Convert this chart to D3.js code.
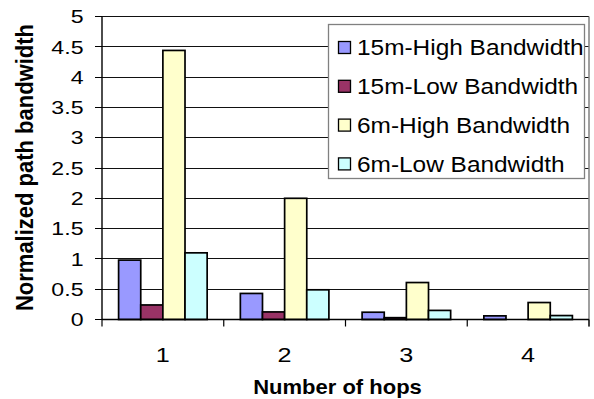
<!DOCTYPE html>
<html>
<head>
<meta charset="utf-8">
<script src="https://cdn.jsdelivr.net/npm/d3@7"></script>
<style>
  body { margin: 0; background: #fff; }
  svg { display: block; font-family: Arial, "Liberation Sans", sans-serif; }
</style>
</head>
<body>
<svg width="594" height="399"></svg>
<script>
var hops = ['1', '2', '3', '4']
var seriesNames = ['15m-High Bandwidth', '15m-Low Bandwidth', '6m-High Bandwidth', '6m-Low Bandwidth']
var high15 = [0.98, 0.43, 0.12, 0.06]
var low15 = [0.24, 0.125, 0.03, 0]
var high6 = [4.44, 2.0, 0.61, 0.28]
var low6 = [1.10, 0.49, 0.15, 0.065]
var yTicks = [0, 0.5, 1, 1.5, 2, 2.5, 3, 3.5, 4, 4.5, 5]
var colors = ['#9999ff', '#993366', '#ffffcc', '#ccffff']

var seriesValues = [high15, low15, high6, low6]
var plotLeft = 102, plotRight = 589, plotTop = 16.5, plotBottom = 319.5

var svg = d3.select('svg')

var x0 = d3.scaleBand().domain(hops).range([plotLeft, plotRight])
var x1 = d3.scaleBand().domain(seriesNames).range([0, x0.bandwidth()]).paddingOuter(0.75)
var y = d3.scaleLinear().domain([0, 5]).range([plotBottom, plotTop])

// gridlines
svg.append('g')
    .attr('shape-rendering', 'crispEdges')
    .selectAll('line')
    .data(yTicks.slice(1))
    .enter().append('line')
    .attr('x1', plotLeft).attr('x2', plotRight)
    .attr('y1', function (d) { return y(d); }).attr('y2', function (d) { return y(d); })
    .attr('stroke', '#111').attr('stroke-width', 1);

// right border of plot area
svg.append('line')
    .attr('x1', plotRight).attr('x2', plotRight)
    .attr('y1', plotTop).attr('y2', plotBottom + 7)
    .attr('stroke', '#808080').attr('stroke-width', 1.5);

// bars
var groups = svg.append('g')
    .selectAll('g')
    .data(seriesNames)
    .enter().append('g')
    .attr('fill', function (d, i) { return colors[i]; });

groups.selectAll('rect')
    .data(function (d, i) {
        return hops.map(function (h, k) { return { hop: h, name: d, value: seriesValues[i][k] }; });
    })
    .enter().append('rect')
    .attr('x', function (d) { return x0(d.hop) + x1(d.name); })
    .attr('width', x1.bandwidth())
    .attr('y', function (d) { return y(d.value); })
    .attr('height', function (d) { return y(0) - y(d.value); })
    .attr('stroke', '#000')
    .attr('stroke-width', 1.7);

// y axis
svg.append('line')
    .attr('x1', plotLeft).attr('x2', plotLeft)
    .attr('y1', plotTop).attr('y2', plotBottom)
    .attr('stroke', '#000').attr('stroke-width', 1.4);

svg.append('g')
    .attr('shape-rendering', 'crispEdges')
    .selectAll('line')
    .data(yTicks)
    .enter().append('line')
    .attr('x1', plotLeft - 7).attr('x2', plotLeft)
    .attr('y1', function (d) { return y(d); }).attr('y2', function (d) { return y(d); })
    .attr('stroke', '#000').attr('stroke-width', 1);

svg.append('g')
    .selectAll('g')
    .data(yTicks)
    .enter().append('g')
    .attr('transform', function (d) { return 'translate(83.5,' + (y(d) + 6.7) + ') scale(1.25,1)'; })
    .append('text')
    .attr('text-anchor', 'end')
    .attr('font-size', 18.5)
    .attr('fill', '#000')
    .text(function (d) { return d; });

// x axis
svg.append('line')
    .attr('x1', plotLeft).attr('x2', plotRight)
    .attr('y1', plotBottom).attr('y2', plotBottom)
    .attr('stroke', '#000').attr('stroke-width', 1.4);

svg.append('g')
    .selectAll('line')
    .data(hops.map(function (h) { return x0(h); }).concat([plotRight]))
    .enter().append('line')
    .attr('x1', function (d) { return d; }).attr('x2', function (d) { return d; })
    .attr('y1', plotBottom).attr('y2', plotBottom + 7)
    .attr('stroke', '#000').attr('stroke-width', 1.2);

svg.append('g')
    .selectAll('g')
    .data(hops)
    .enter().append('g')
    .attr('transform', function (d) { return 'translate(' + (x0(d) + x0.bandwidth() / 2) + ',361.5) scale(1.2,1)'; })
    .append('text')
    .attr('text-anchor', 'middle')
    .attr('font-size', 21)
    .attr('fill', '#000')
    .text(function (d) { return d; });

// axis titles
svg.append('text')
    .attr('transform', 'translate(337.5,394) scale(1.1,1)')
    .attr('text-anchor', 'middle')
    .attr('font-size', 20)
    .attr('font-weight', 'bold')
    .text('Number of hops');

svg.append('text')
    .attr('transform', 'translate(33,167.5) scale(1.1,1) rotate(-90)')
    .attr('text-anchor', 'middle')
    .attr('font-size', 22)
    .attr('font-weight', 'bold')
    .text('Normalized path bandwidth');

// legend
var legend = svg.append('g');
legend.append('rect')
    .attr('x', 328.5).attr('y', 24.5)
    .attr('width', 256).attr('height', 154)
    .attr('fill', '#fff')
    .attr('stroke', '#808080').attr('stroke-width', 1.3);

var items = legend.selectAll('g')
    .data(seriesNames)
    .enter().append('g')
    .attr('transform', function (d, i) { return 'translate(0,' + (47.5 + i * 38.8) + ')'; });

items.append('rect')
    .attr('x', 338.5).attr('y', -6)
    .attr('width', 12).attr('height', 12)
    .attr('fill', function (d, i) { return colors[i]; })
    .attr('stroke', '#000').attr('stroke-width', 1.3);

items.append('g')
    .attr('transform', 'translate(357,7.8) scale(1.11,1)')
    .append('text')
    .attr('font-size', 22)
    .attr('fill', '#000')
    .text(function (d) { return d; });
</script>
</body>
</html>
